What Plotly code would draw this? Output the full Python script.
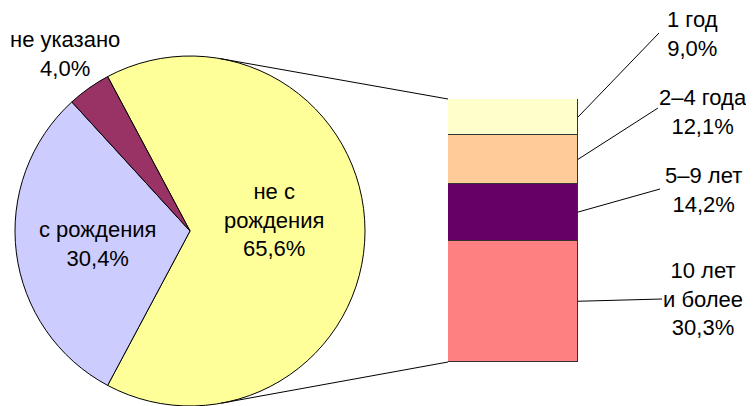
import math
import plotly.graph_objects as go

# ── Data ────────────────────────────────────────────────────────────────────
PIE_LABELS = ["не с<br>рождения", "с рождения", "не указано"]
PIE_VALUES = [65.6, 30.4, 4.0]
PIE_COLORS = ["#FFFF99", "#CCCCFF", "#993366"]

BAR_LABELS = ["1 год", "2–4 года", "5–9 лет", "10 лет<br>и более"]
BAR_VALUES = [9.0, 12.1, 14.2, 30.3]
BAR_COLORS = ["#FFFFCC", "#FFCC99", "#660066", "#FF8080"]

# ── Geometry (screen pixels, y down) ────────────────────────────────────────
W, H = 754, 406
OFF = 8  # page body margin in front of the plot div
FONT = dict(family="Liberation Sans, Arial, sans-serif", size=22, color="black")
PIE_C = (190, 231)
PIE_R = 175
BAR_X0, BAR_X1 = 448, 578
BAR_Y0, BAR_Y1 = 99, 362

PIE_TEXT_POS = [(274, 220), (97, 244), (65, 54)]
BAR_TEXT_POS = [(692, 34), (703, 112), (703, 190), (703, 299)]
LEADER_END = [(659, 33), (658, 108), (660, 189), (662, 299)]


def pct(v):
    return f"{v:.1f}".replace(".", ",") + "%"


def px_x(x):
    return (x - OFF) / W


def px_y(y):
    return 1 - (y - OFF) / H


def tangent_point(p, upper):
    """Tangent point on the pie circle seen from bar corner p."""
    cx, cy = PIE_C
    dx, dy = p[0] - cx, p[1] - cy
    d = math.hypot(dx, dy)
    base = math.atan2(dy, dx)
    off = math.acos(PIE_R / d)
    a = base - off if upper else base + off
    return cx + PIE_R * math.cos(a), cy + PIE_R * math.sin(a)


fig = go.Figure()

# pie: broken-out slice centred on the right (3 o'clock)
big_share = PIE_VALUES[0] / sum(PIE_VALUES) * 360
fig.add_trace(go.Pie(
    labels=[l.replace("<br>", " ") for l in PIE_LABELS], values=PIE_VALUES,
    sort=False, direction="clockwise", rotation=90 - big_share / 2,
    marker=dict(colors=PIE_COLORS, line=dict(color="black", width=1)),
    textinfo="none", hoverinfo="label+percent", showlegend=False,
    domain=dict(x=[px_x(PIE_C[0] - PIE_R), px_x(PIE_C[0] + PIE_R)],
                y=[px_y(PIE_C[1] + PIE_R), px_y(PIE_C[1] - PIE_R)]),
))

# stacked bar, first category on top
for lab, v, c in reversed(list(zip(BAR_LABELS, BAR_VALUES, BAR_COLORS))):
    fig.add_trace(go.Bar(
        x=[0], y=[v], width=1, name=lab.replace("<br>", " "),
        marker=dict(color=c, line=dict(color="#333333", width=1)),
        xaxis="x2", yaxis="y2", showlegend=False,
    ))

total = sum(BAR_VALUES)
shapes, annotations = [], []

# connector lines pie -> bar
for corner, upper in [((BAR_X0, BAR_Y0), True), ((BAR_X0, BAR_Y1), False)]:
    tx, ty = tangent_point(corner, upper)
    shapes.append(dict(type="line", xref="paper", yref="paper",
                       x0=px_x(tx), y0=px_y(ty), x1=px_x(corner[0]), y1=px_y(corner[1]),
                       line=dict(color="black", width=1)))

# bar labels with leader lines
cum = 0
for lab, v, tpos, lend in zip(BAR_LABELS, BAR_VALUES, BAR_TEXT_POS, LEADER_END):
    mid = BAR_Y0 + (cum + v / 2) / total * (BAR_Y1 - BAR_Y0)
    cum += v
    shapes.append(dict(type="line", xref="paper", yref="paper",
                       x0=px_x(BAR_X1), y0=px_y(mid), x1=px_x(lend[0]), y1=px_y(lend[1]),
                       line=dict(color="black", width=1)))
    annotations.append(dict(x=px_x(tpos[0]), y=px_y(tpos[1]), xref="paper", yref="paper",
                            text=f"{lab}<br>{pct(v)}", showarrow=False,
                            xanchor="center", yanchor="middle", align="center", font=FONT))

# pie labels
for lab, v, tpos in zip(PIE_LABELS, PIE_VALUES, PIE_TEXT_POS):
    annotations.append(dict(x=px_x(tpos[0]), y=px_y(tpos[1]), xref="paper", yref="paper",
                            text=f"{lab}<br>{pct(v)}", showarrow=False,
                            xanchor="center", yanchor="middle", align="center", font=FONT))

fig.update_layout(
    width=W, height=H, margin=dict(l=0, r=0, t=0, b=0),
    paper_bgcolor="white", plot_bgcolor="white",
    barmode="stack", bargap=0,
    xaxis2=dict(domain=[px_x(BAR_X0), px_x(BAR_X1)], range=[-0.5, 0.5],
                visible=False, anchor="y2"),
    yaxis2=dict(domain=[px_y(BAR_Y1), px_y(BAR_Y0)], range=[0, total],
                visible=False, anchor="x2"),
    xaxis=dict(visible=False), yaxis=dict(visible=False),
    shapes=shapes, annotations=annotations, font=FONT,
)

fig.write_html("out.html")
